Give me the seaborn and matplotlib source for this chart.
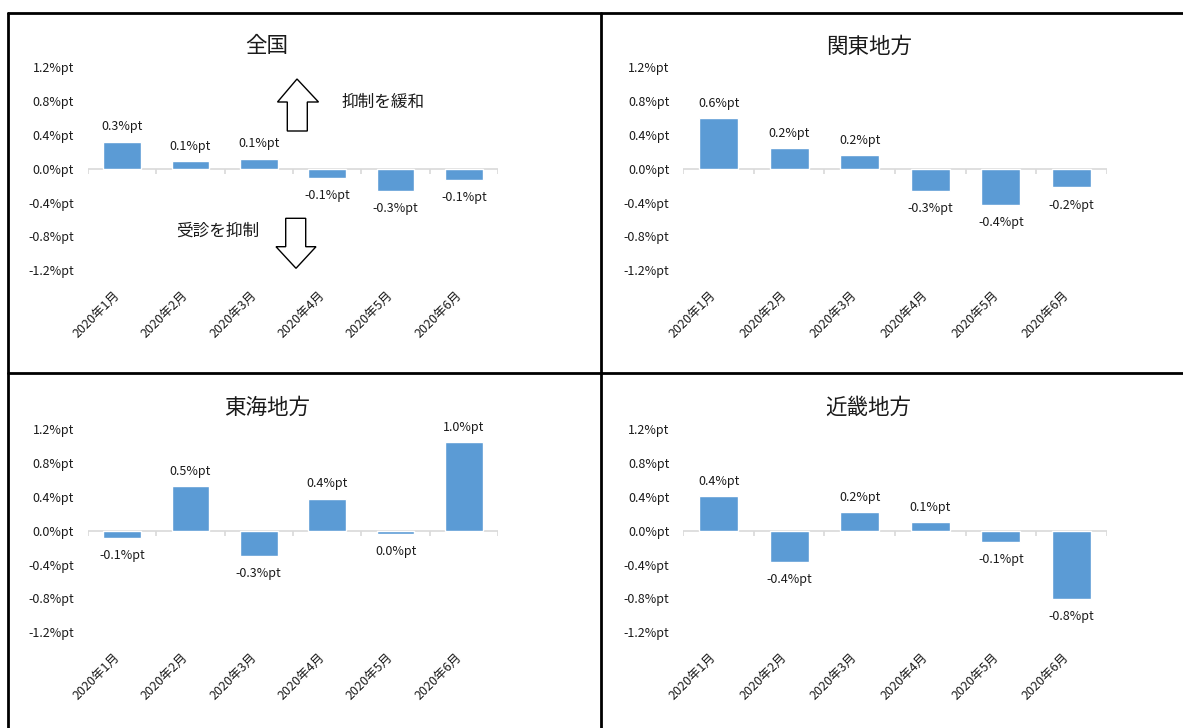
import matplotlib
matplotlib.use("Agg")
import matplotlib.pyplot as plt
from matplotlib.lines import Line2D
from matplotlib.patches import Polygon
import seaborn as sns
import pandas as pd

# ---- data ----
months = ["2020年1月", "2020年2月", "2020年3月", "2020年4月", "2020年5月", "2020年6月"]
titles = ["全国", "関東地方", "東海地方", "近畿地方"]
zenkoku = [0.32, 0.09, 0.12, -0.11, -0.26, -0.13]
kanto = [0.60, 0.24, 0.16, -0.26, -0.43, -0.22]
tokai = [-0.08, 0.53, -0.30, 0.38, -0.04, 1.05]
kinki = [0.41, -0.37, 0.22, 0.10, -0.13, -0.81]
zenkoku_labels = ["0.3%pt", "0.1%pt", "0.1%pt", "-0.1%pt", "-0.3%pt", "-0.1%pt"]
kanto_labels = ["0.6%pt", "0.2%pt", "0.2%pt", "-0.3%pt", "-0.4%pt", "-0.2%pt"]
tokai_labels = ["-0.1%pt", "0.5%pt", "-0.3%pt", "0.4%pt", "0.0%pt", "1.0%pt"]
kinki_labels = ["0.4%pt", "-0.4%pt", "0.2%pt", "0.1%pt", "-0.1%pt", "-0.8%pt"]
yticks = [-1.2, -0.8, -0.4, 0.0, 0.4, 0.8, 1.2]
ytick_labels = ["-1.2%pt", "-0.8%pt", "-0.4%pt", "0.0%pt", "0.4%pt", "0.8%pt", "1.2%pt"]
note_up = "抑制を緩和"
note_down = "受診を抑制"

sns.set_theme(style="white")
plt.rcParams["font.family"] = ["Noto Sans CJK JP", "DejaVu Sans"]
TXT = "#1a1a1a"
BAR = "#5B9BD5"

W, H = 1183, 728
fig = plt.figure(figsize=(W / 100, H / 100), dpi=100)


def fx(x):
    return x / W


def fy(y):
    return 1 - y / H


# axes rectangles in pixels: left, right, top(1.2), bottom(-1.2)
rects = [
    (87.7, 498.3, 67.3, 270.3),
    (683.3, 1106.7, 67.3, 270.3),
    (87.7, 498.3, 429.3, 632.3),
    (683.3, 1106.7, 429.3, 632.3),
]
title_pos = [(267, 46.5), (869, 46.5), (267, 408), (868, 408)]
series = [zenkoku, kanto, tokai, kinki]
labels = [zenkoku_labels, kanto_labels, tokai_labels, kinki_labels]

for (l, r, t, b), title, tp, vals, labs in zip(rects, titles, title_pos, series, labels):
    ax = fig.add_axes([fx(l), fy(b), (r - l) / W, (b - t) / H])
    df = pd.DataFrame({"month": months, "value": vals})
    sns.barplot(data=df, x="month", y="value", ax=ax, color=BAR, saturation=1,
                width=0.55, order=months)
    ax.set_xlim(-0.5, 5.5)
    ax.set_ylim(-1.2, 1.2)
    for s in ax.spines.values():
        s.set_visible(False)
    ax.axhline(0, color="#D9D9D9", lw=1.2, zorder=0)
    ax.vlines([i - 0.5 for i in range(7)], -0.06, 0, color="#D9D9D9", lw=1.2, zorder=0)
    ax.set_yticks(yticks)
    ax.set_yticklabels(ytick_labels, fontsize=9, color=TXT)
    ax.tick_params(axis="y", length=0, pad=10)
    ax.set_xticks(range(len(months)))
    ax.set_xticklabels(months, rotation=45, ha="right", va="top", fontsize=9, color=TXT)
    ax.tick_params(axis="x", length=0, pad=13)
    ax.set_xlabel("")
    ax.set_ylabel("")
    ax.grid(False)
    for patch, lab, v in zip(ax.patches, labs, vals):
        xc = patch.get_x() + patch.get_width() / 2
        if v >= 0:
            ax.annotate(lab, (xc, v), xytext=(0, 6), textcoords="offset points",
                        ha="center", va="bottom", fontsize=9, color=TXT)
        else:
            ax.annotate(lab, (xc, v), xytext=(0, -8), textcoords="offset points",
                        ha="center", va="top", fontsize=9, color=TXT)
    fig.text(fx(tp[0]), fy(tp[1]), title, ha="center", va="center", fontsize=15.5, color=TXT)

# arrows and notes in first panel
up = [(297, 79), (318.5, 102), (307.3, 102), (307.3, 131), (287.3, 131), (287.3, 102), (277.5, 102)]
down = [(285.7, 218.3), (305.7, 218.3), (305.7, 246.7), (316, 246.7), (296, 268.3), (276, 246.7), (285.7, 246.7)]
for pts in (up, down):
    fig.add_artist(Polygon([(fx(x), fy(y)) for x, y in pts], closed=True,
                           facecolor="white", edgecolor="black", lw=1,
                           transform=fig.transFigure))
fig.text(fx(383), fy(102.5), note_up, ha="center", va="center", fontsize=12, color=TXT)
fig.text(fx(218), fy(231.5), note_down, ha="center", va="center", fontsize=12, color=TXT)

# frame lines
lw = 2
for xs, ys in [((8, 1183), (13, 13)), ((8, 8), (13, 728)), ((601, 601), (13, 728)),
               ((8, 1183), (373.5, 373.5))]:
    fig.add_artist(Line2D([fx(xs[0]), fx(xs[1])], [fy(ys[0]), fy(ys[1])],
                          color="black", lw=lw, transform=fig.transFigure))

fig.savefig("out.png", dpi=100)
